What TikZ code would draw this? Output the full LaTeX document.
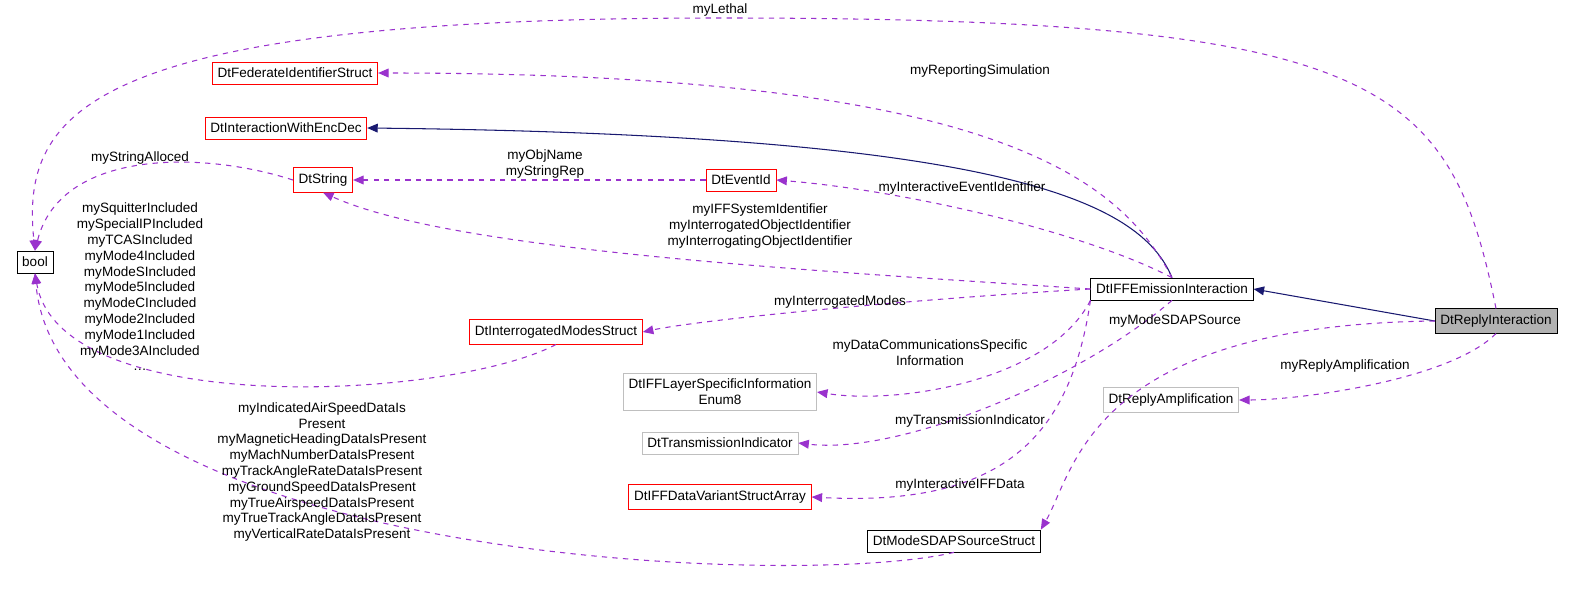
\documentclass[tikz,border=0pt]{standalone}
\usepackage{fontspec}
\setmainfont{Liberation Sans}
\usetikzlibrary{arrows.meta}
\definecolor{ed}{HTML}{9A32CD}
\definecolor{nv}{HTML}{191970}
\definecolor{gr}{HTML}{BFBFBF}
\begin{document}
\begin{tikzpicture}[
            x = 0.02cm, y = -0.02cm,
            font = \fontsize{7.7}{9}\selectfont,
            box/.style = {draw = black, fill = white, minimum height = 0.44cm, inner xsep = 3pt, align = center},
            redbox/.style = {box, draw = red},
            graybox/.style = {box, draw = gr},
            use/.style = {draw = ed, dashed, semithick, -{Triangle[width=5pt,length=6pt]}},
            inh/.style = {draw = nv, semithick, -{Triangle[width=5pt,length=6pt]}},
            lbl/.style = {align = center, inner sep = 1pt}
        ]
        \useasboundingbox (0,0) rectangle (1592,608);

        \node[box] (bool) at (35,262) {bool};
        \node[redbox] (str) at (323,180) {DtString};
        \node[redbox] (fed) at (295,73) {DtFederateIdentifierStruct};
        \node[redbox] (enc) at (286,128) {DtInteractionWithEncDec};
        \node[redbox] (evt) at (741,180) {DtEventId};
        \node[box] (iff) at (1172,289) {DtIFFEmissionInteraction};
        \node[box, fill = gray!60] (rep) at (1496,321) {DtReplyInteraction};
        \node[redbox] (modes) at (556,332) {DtInterrogatedModesStruct};
        \node[graybox] (layer) at (720,392) {DtIFFLayerSpecificInformation\\Enum8};
        \node[graybox] (trans) at (720,443) {DtTransmissionIndicator};
        \node[redbox] (var) at (720,497) {DtIFFDataVariantStructArray};
        \node[box] (sdap) at (954,541) {DtModeSDAPSourceStruct};
        \node[graybox] (amp) at (1171,400) {DtReplyAmplification};

        % inheritance
        \draw[inh] (rep.west) -- (iff.east);
        \draw[inh] (iff.north) .. controls (1140,200) and (1000,135) .. (enc.east);

        % members
        \draw[use] (rep.north) .. controls (1450,80) and (1380,18) .. (720,18)
            .. controls (90,18) and (20,110) .. (bool.north);
        \draw[use] (iff.north) .. controls (1120,180) and (1000,73) .. (fed.east);
        \draw[use] (str.west) .. controls (200,150) and (60,150) .. (bool.north);
        \draw[use] (evt.west) -- (str.east);
        \draw[use] (iff.north) .. controls (1080,230) and (900,190) .. (evt.east);
        \draw[use] (iff.west) .. controls (800,270) and (450,250) .. (str.south);
        \draw[use] (iff.west) .. controls (900,300) and (700,320) .. (modes.east);
        \draw[use] (modes.south) .. controls (450,400) and (60,420) .. (bool.south);
        \draw[use] (iff.south west) .. controls (1050,380) and (900,405) .. (layer.east);
        \draw[use] (iff.south) .. controls (1080,380) and (900,455) .. (trans.east);
        \draw[use] (iff.south west) .. controls (1070,440) and (1000,507) .. (var.east);
        \draw[use] (rep.west) .. controls (1090,325) and (1075,470) .. (sdap.north east);
        \draw[use] (sdap.south) .. controls (800,590) and (60,560) .. (bool.south);
        \draw[use] (rep.south) .. controls (1450,380) and (1300,400) .. (amp.east);

        % labels
        \node[lbl] (lethalLbl) at (720,10) {myLethal};
        \node[lbl] (repSimLbl) at (980,71) {myReportingSimulation};
        \node[lbl] (allocLbl) at (140,158) {myStringAlloced};
        \node[lbl] (nameLbl) at (545,164) {myObjName\\myStringRep};
        \node[lbl] (evtLbl) at (962,188) {myInteractiveEventIdentifier};
        \node[lbl] (sysLbl) at (760,226) {myIFFSystemIdentifier\\myInterrogatedObjectIdentifier\\myInterrogatingObjectIdentifier};
        \node[lbl] (modesLbl) at (840,302) {myInterrogatedModes};
        \node[lbl] (boolLbl) at (140,287) {mySquitterIncluded\\mySpecialIPIncluded\\myTCASIncluded\\myMode4Included\\myModeSIncluded\\myMode5Included\\myModeCIncluded\\myMode2Included\\myMode1Included\\myMode3AIncluded\\\dots};
        \node[lbl] (commLbl) at (930,353) {myDataCommunicationsSpecific\\Information};
        \node[lbl] (transLbl) at (970,421) {myTransmissionIndicator};
        \node[lbl] (dataLbl) at (960,485) {myInteractiveIFFData};
        \node[lbl] (sdapSrcLbl) at (1175,321) {myModeSDAPSource};
        \node[lbl] (sdapLbl) at (322,472) {myIndicatedAirSpeedDataIs\\Present\\myMagneticHeadingDataIsPresent\\myMachNumberDataIsPresent\\myTrackAngleRateDataIsPresent\\myGroundSpeedDataIsPresent\\myTrueAirspeedDataIsPresent\\myTrueTrackAngleDataIsPresent\\myVerticalRateDataIsPresent};
        \node[lbl] (ampLbl) at (1345,366) {myReplyAmplification};
\end{tikzpicture}
\end{document}
